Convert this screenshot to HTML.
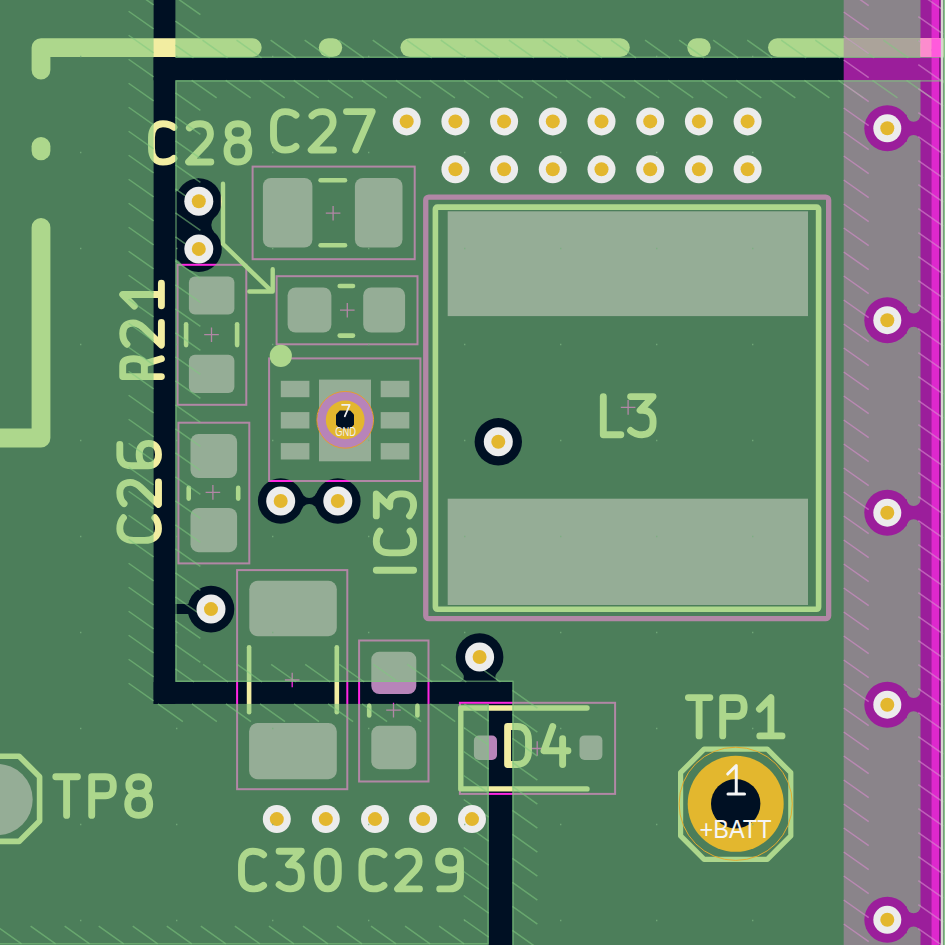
<!DOCTYPE html><html><head><meta charset="utf-8"><style>html,body{margin:0;padding:0;background:#001023;overflow:hidden}svg{display:block}</style></head><body><svg width="945" height="945" viewBox="0 0 945 945"><defs><clipPath id="cp"><rect x="0" y="0" width="945" height="945"/></clipPath></defs><rect width="945" height="945" fill="#001023"/><rect x="843.7" y="-10" width="77.3" height="965" rx="0" fill="rgb(155,30,155)"/><rect x="920.5" y="-10" width="10.7" height="965" rx="0" fill="rgb(155,30,155)"/><rect x="931.2" y="-10" width="7.8" height="965" rx="0" fill="rgb(222,40,205)"/><rect x="939" y="-10" width="2" height="965" rx="0" fill="rgb(130,20,130)"/><rect x="262.9" y="177.9" width="49.5" height="69.6" rx="8" fill="rgb(183,132,185)"/><rect x="354.9" y="177.9" width="47.6" height="69.6" rx="8" fill="rgb(183,132,185)"/><rect x="287.6" y="287.5" width="43.8" height="45.1" rx="8" fill="rgb(183,132,185)"/><rect x="363.2" y="287.5" width="41.9" height="45.1" rx="8" fill="rgb(183,132,185)"/><rect x="188.9" y="276.5" width="45.5" height="38.1" rx="6" fill="rgb(183,132,185)"/><rect x="188.9" y="354.8" width="45.5" height="38.1" rx="6" fill="rgb(183,132,185)"/><rect x="190.5" y="434" width="46.6" height="44" rx="8" fill="rgb(183,132,185)"/><rect x="190.5" y="508" width="46.6" height="44.2" rx="8" fill="rgb(183,132,185)"/><rect x="319" y="379.6" width="52" height="81.7" rx="0" fill="rgb(183,132,185)"/><rect x="447.7" y="211.3" width="360.3" height="104.8" rx="0" fill="rgb(183,132,185)"/><rect x="447.7" y="498.7" width="360.3" height="106.3" rx="0" fill="rgb(183,132,185)"/><rect x="249.3" y="580.7" width="87.5" height="55.5" rx="8.5" fill="rgb(183,132,185)"/><rect x="249.1" y="723" width="87.7" height="56.2" rx="8.5" fill="rgb(183,132,185)"/><rect x="371.3" y="651.7" width="45" height="42.3" rx="8" fill="rgb(183,132,185)"/><rect x="371.3" y="725.8" width="45" height="43.4" rx="8" fill="rgb(183,132,185)"/><rect x="473.9" y="735.6" width="23.1" height="24.4" rx="5" fill="rgb(183,132,185)"/><rect x="579.5" y="735.4" width="22.9" height="24.6" rx="5" fill="rgb(183,132,185)"/><rect x="280.8" y="380.8" width="28.6" height="16.4" rx="0" fill="rgb(183,132,185)"/><rect x="380.7" y="380.8" width="28.6" height="16.4" rx="0" fill="rgb(183,132,185)"/><rect x="280.8" y="412.1" width="28.6" height="16.4" rx="0" fill="rgb(183,132,185)"/><rect x="380.7" y="412.1" width="28.6" height="16.4" rx="0" fill="rgb(183,132,185)"/><rect x="280.8" y="443.1" width="28.6" height="16.4" rx="0" fill="rgb(183,132,185)"/><rect x="380.7" y="443.1" width="28.6" height="16.4" rx="0" fill="rgb(183,132,185)"/><circle cx="-3" cy="799.5" r="35.7" fill="rgb(183,132,185)"/><rect x="252.6" y="166.6" width="162.1" height="92.6" rx="0" fill="none" stroke="rgb(255,38,226)" stroke-width="2"/><rect x="276.6" y="276.2" width="140.9" height="68.1" rx="0" fill="none" stroke="rgb(255,38,226)" stroke-width="2"/><rect x="177.6" y="264.8" width="68.7" height="140" rx="0" fill="none" stroke="rgb(255,38,226)" stroke-width="2"/><rect x="178.4" y="422.7" width="70.9" height="140.7" rx="0" fill="none" stroke="rgb(255,38,226)" stroke-width="2"/><rect x="269.1" y="358.4" width="151.3" height="122.6" rx="0" fill="none" stroke="rgb(255,38,226)" stroke-width="2"/><rect x="237.1" y="570.1" width="110.2" height="219.1" rx="0" fill="none" stroke="rgb(255,38,226)" stroke-width="2"/><rect x="359.1" y="640.5" width="69.4" height="141" rx="0" fill="none" stroke="rgb(255,38,226)" stroke-width="2"/><rect x="459.9" y="702.8" width="155.2" height="91.1" rx="0" fill="none" stroke="rgb(255,38,226)" stroke-width="2"/><rect x="425.75" y="197.05" width="402.9" height="421.6" rx="3" fill="none" stroke="rgb(255,38,226)" stroke-width="5.3"/><path d="M325.8,213.2 L340.4,213.2 M333.1,205.9 L333.1,220.5" stroke="rgb(255,38,226)" stroke-width="1.3"/><path d="M340,310.2 L354.6,310.2 M347.3,302.9 L347.3,317.5" stroke="rgb(255,38,226)" stroke-width="1.3"/><path d="M204.2,334.7 L218.8,334.7 M211.5,327.4 L211.5,342" stroke="rgb(255,38,226)" stroke-width="1.3"/><path d="M205.6,492.4 L220.2,492.4 M212.9,485.1 L212.9,499.7" stroke="rgb(255,38,226)" stroke-width="1.3"/><path d="M284.9,680 L299.5,680 M292.2,672.7 L292.2,687.3" stroke="rgb(255,38,226)" stroke-width="1.3"/><path d="M386.2,710.1 L400.8,710.1 M393.5,702.8 L393.5,717.4" stroke="rgb(255,38,226)" stroke-width="1.3"/><path d="M529.9,748.5 L544.5,748.5 M537.2,741.2 L537.2,755.8" stroke="rgb(255,38,226)" stroke-width="1.3"/><path d="M620.8,407.4 L635.4,407.4 M628.1,400.1 L628.1,414.7" stroke="rgb(255,38,226)" stroke-width="1.3"/><path d="M41,70 L41,47.6 L252.3,47.6" fill="none" stroke="rgb(242,237,161)" stroke-width="18.8" stroke-linecap="round" stroke-linejoin="round"/><path d="M328.2,47.6 L332.8,47.6" fill="none" stroke="rgb(242,237,161)" stroke-width="18.8" stroke-linecap="round" stroke-linejoin="round"/><path d="M409.8,47.6 L620.4,47.6" fill="none" stroke="rgb(242,237,161)" stroke-width="18.8" stroke-linecap="round" stroke-linejoin="round"/><path d="M696.7,47.6 L701.3,47.6" fill="none" stroke="rgb(242,237,161)" stroke-width="18.8" stroke-linecap="round" stroke-linejoin="round"/><path d="M777.4,47.6 L1000,47.6" fill="none" stroke="rgb(242,237,161)" stroke-width="18.8" stroke-linecap="round" stroke-linejoin="round"/><path d="M41,146.3 L41,150.9" fill="none" stroke="rgb(242,237,161)" stroke-width="18.8" stroke-linecap="round" stroke-linejoin="round"/><path d="M41,227.5 L41,438 L-20,438" fill="none" stroke="rgb(242,237,161)" stroke-width="18.8" stroke-linecap="round" stroke-linejoin="round"/><path d="M320.6,180.2 L345,180.2" fill="none" stroke="rgb(242,237,161)" stroke-width="4.6" stroke-linecap="round" stroke-linejoin="round"/><path d="M320.6,245.2 L345,245.2" fill="none" stroke="rgb(242,237,161)" stroke-width="4.6" stroke-linecap="round" stroke-linejoin="round"/><path d="M339.7,286 L353,286" fill="none" stroke="rgb(242,237,161)" stroke-width="4.6" stroke-linecap="round" stroke-linejoin="round"/><path d="M339.7,335.6 L353,335.6" fill="none" stroke="rgb(242,237,161)" stroke-width="4.6" stroke-linecap="round" stroke-linejoin="round"/><path d="M186.1,324.3 L186.1,345.1" fill="none" stroke="rgb(242,237,161)" stroke-width="4.6" stroke-linecap="round" stroke-linejoin="round"/><path d="M237.1,324.3 L237.1,345.1" fill="none" stroke="rgb(242,237,161)" stroke-width="4.6" stroke-linecap="round" stroke-linejoin="round"/><path d="M188.7,487.9 L188.7,498.6" fill="none" stroke="rgb(242,237,161)" stroke-width="4.6" stroke-linecap="round" stroke-linejoin="round"/><path d="M238.2,487.9 L238.2,498.6" fill="none" stroke="rgb(242,237,161)" stroke-width="4.6" stroke-linecap="round" stroke-linejoin="round"/><path d="M249.1,647.3 L249.1,712.2" fill="none" stroke="rgb(242,237,161)" stroke-width="4.6" stroke-linecap="round" stroke-linejoin="round"/><path d="M336.8,647.3 L336.8,712.2" fill="none" stroke="rgb(242,237,161)" stroke-width="4.6" stroke-linecap="round" stroke-linejoin="round"/><path d="M369.2,705.9 L369.2,715.5" fill="none" stroke="rgb(242,237,161)" stroke-width="4.6" stroke-linecap="round" stroke-linejoin="round"/><path d="M417.4,705.9 L417.4,715.5" fill="none" stroke="rgb(242,237,161)" stroke-width="4.6" stroke-linecap="round" stroke-linejoin="round"/><path d="M223,183.8 L223,244 L270.5,290.2" fill="none" stroke="rgb(242,237,161)" stroke-width="4.4" stroke-linecap="round" stroke-linejoin="round"/><path d="M272.7,269.3 L272.7,291.5 L249.3,291.5" fill="none" stroke="rgb(242,237,161)" stroke-width="4.4" stroke-linecap="round" stroke-linejoin="round"/><circle cx="280.8" cy="355.9" r="11.1" fill="rgb(242,237,161)"/><rect x="435.4" y="207.1" width="383.2" height="402.2" rx="2" fill="none" stroke="rgb(242,237,161)" stroke-width="5.6"/><path d="M587,708 L460.8,708 L460.8,788.9 L587,788.9" fill="none" stroke="rgb(242,237,161)" stroke-width="5.4" stroke-linecap="round" stroke-linejoin="round"/><path d="M704.1,749.2 L767.3,749.2 L790.8,772.7 L790.8,835.9 L767.3,859.4 L704.1,859.4 L680.6,835.9 L680.6,772.7 Z" fill="none" stroke="rgb(242,237,161)" stroke-width="5.2" stroke-linejoin="round"/><path d="M-25.1,756.2 L19.1,756.2 L39.6,776.7 L39.6,820.9 L19.1,841.4 L-25.1,841.4 L-45.6,820.9 L-45.6,776.7 Z" fill="none" stroke="rgb(242,237,161)" stroke-width="5.6" stroke-linejoin="round"/><path d="M173.91,127.3 C170.65,124.27 167.59,123.7 162.99,123.7 C155.33,123.7 151.5,129.44 151.5,137.49 L151.5,148.21 C151.5,156.25 155.33,162 162.99,162 C167.59,162 170.65,161.43 173.91,158.4 M189.37,127.91 C192.43,124.47 195.49,123.7 200.09,123.7 C206.98,123.7 210.43,127.53 210.43,134.04 C210.43,137.87 208.9,140.55 205.83,144 L188.6,162 L210.81,162 M237.92,140.17 C230.83,140.17 228.15,136.72 228.15,131.93 C228.15,126.76 231.6,123.7 237.92,123.7 C244.24,123.7 247.68,126.76 247.68,131.93 C247.68,136.72 245,140.17 237.92,140.17 C230.83,140.17 227,144 227,150.89 C227,158.17 231.6,162 237.92,162 C244.24,162 248.83,158.17 248.83,150.89 C248.83,144 245,140.17 237.92,140.17 Z" fill="none" stroke="rgb(242,237,161)" stroke-width="6.9" stroke-linecap="round" stroke-linejoin="round"/><path d="M295.96,115.21 C292.7,112.18 289.63,111.6 285.02,111.6 C277.34,111.6 273.5,117.36 273.5,125.42 L273.5,136.18 C273.5,144.24 277.34,150 285.02,150 C289.63,150 292.7,149.42 295.96,146.39 M311.97,115.82 C315.04,112.37 318.11,111.6 322.72,111.6 C329.63,111.6 333.09,115.44 333.09,121.97 C333.09,125.81 331.55,128.5 328.48,131.95 L311.2,150 L333.47,150 M346.5,111.6 L372.23,111.6 L355.72,150" fill="none" stroke="rgb(242,237,161)" stroke-width="6.9" stroke-linecap="round" stroke-linejoin="round"/><path d="M161.4,376.6 L122.7,376.6 L122.7,365.76 C122.7,361.12 126.57,358.8 133.54,358.8 C140.5,358.8 144.37,361.12 144.37,365.76 L144.37,376.6 M144.37,363.83 L161.4,358.8 M126.96,344.23 C123.47,341.13 122.7,338.03 122.7,333.39 C122.7,326.42 126.57,322.94 133.15,322.94 C137.02,322.94 139.73,324.49 143.21,327.58 L161.4,345 L161.4,322.55 M134.31,306.09 L122.7,294.48 L161.4,294.48 M161.4,305.7 L161.4,283.25" fill="none" stroke="rgb(242,237,161)" stroke-width="6.9" stroke-linecap="round" stroke-linejoin="round"/><path d="M123.44,517.76 C120.38,521.05 119.8,524.15 119.8,528.79 C119.8,536.53 125.61,540.4 133.73,540.4 L144.57,540.4 C152.69,540.4 158.5,536.53 158.5,528.79 C158.5,524.15 157.92,521.05 154.86,517.76 M124.06,503.63 C120.57,500.53 119.8,497.43 119.8,492.79 C119.8,485.82 123.67,482.34 130.25,482.34 C134.12,482.34 136.83,483.89 140.31,486.98 L158.5,504.4 L158.5,481.95 M148.05,465.8 C154.63,465.8 158.5,461.54 158.5,454.58 C158.5,447.22 154.63,443.35 148.82,443.35 C142.25,443.35 139.15,447.22 139.15,454.58 C139.15,461.54 142.25,465.8 148.05,465.8 L131.41,465.8 C123.67,465.8 119.8,461.93 119.8,454.96 L119.8,444.51" fill="none" stroke="rgb(242,237,161)" stroke-width="6.9" stroke-linecap="round" stroke-linejoin="round"/><path d="M376.3,570.3 L413.6,570.3 M379.81,531.08 C376.86,534.25 376.3,537.23 376.3,541.71 C376.3,549.17 381.9,552.9 389.73,552.9 L400.17,552.9 C408,552.9 413.6,549.17 413.6,541.71 C413.6,537.23 413.04,534.25 410.09,531.08 M376.3,515.9 L376.3,493.89 L389.73,506.57 L389.73,503.96 C389.73,497.25 394.2,493.89 400.17,493.89 L402.41,493.89 C409.87,493.89 413.6,498.37 413.6,504.71 C413.6,509.93 411.74,513.29 409.5,515.9" fill="none" stroke="rgb(242,237,161)" stroke-width="6.9" stroke-linecap="round" stroke-linejoin="round"/><path d="M603.3,396.6 L603.3,434.7 L620.83,434.7 M630.6,396.6 L653.08,396.6 L640.12,410.32 L642.79,410.32 C649.65,410.32 653.08,414.89 653.08,420.98 L653.08,423.27 C653.08,430.89 648.51,434.7 642.03,434.7 C636.7,434.7 633.27,432.8 630.6,430.51" fill="none" stroke="rgb(242,237,161)" stroke-width="6.9" stroke-linecap="round" stroke-linejoin="round"/><path d="M688.4,697.6 L709.85,697.6 M699.12,697.6 L699.12,735.9 M722.7,735.9 L722.7,697.6 L736.11,697.6 C741.85,697.6 744.15,700.66 744.15,706.98 C744.15,713.3 741.85,716.37 736.11,716.37 L722.7,716.37 M759.42,709.09 L770.91,697.6 L770.91,735.9 M759.8,735.9 L782.01,735.9" fill="none" stroke="rgb(242,237,161)" stroke-width="6.9" stroke-linecap="round" stroke-linejoin="round"/><path d="M55.8,776.8 L77.42,776.8 M66.61,776.8 L66.61,815.4 M91.7,815.4 L91.7,776.8 L105.21,776.8 C111,776.8 113.32,779.89 113.32,786.26 C113.32,792.63 111,795.71 105.21,795.71 L91.7,795.71 M138.7,793.4 C131.56,793.4 128.86,789.92 128.86,785.1 C128.86,779.89 132.33,776.8 138.7,776.8 C145.07,776.8 148.54,779.89 148.54,785.1 C148.54,789.92 145.84,793.4 138.7,793.4 C131.56,793.4 127.7,797.26 127.7,804.21 C127.7,811.54 132.33,815.4 138.7,815.4 C145.07,815.4 149.7,811.54 149.7,804.21 C149.7,797.26 145.84,793.4 138.7,793.4 Z" fill="none" stroke="rgb(242,237,161)" stroke-width="6.9" stroke-linecap="round" stroke-linejoin="round"/><path d="M263.55,854.74 C260.35,851.77 257.33,851.2 252.81,851.2 C245.27,851.2 241.5,856.86 241.5,864.77 L241.5,875.33 C241.5,883.25 245.27,888.9 252.81,888.9 C257.33,888.9 260.35,888.33 263.55,885.36 M279.1,851.2 L301.34,851.2 L288.53,864.77 L291.16,864.77 C297.95,864.77 301.34,869.3 301.34,875.33 L301.34,877.59 C301.34,885.13 296.82,888.9 290.41,888.9 C285.13,888.9 281.74,887.02 279.1,884.75 M327.76,851.2 C334.54,851.2 338.31,857.23 338.31,866.28 L338.31,873.82 C338.31,882.87 334.54,888.9 327.76,888.9 C320.97,888.9 317.2,882.87 317.2,873.82 L317.2,866.28 C317.2,857.23 320.97,851.2 327.76,851.2 Z" fill="none" stroke="rgb(242,237,161)" stroke-width="6.9" stroke-linecap="round" stroke-linejoin="round"/><path d="M383.95,854.74 C380.75,851.77 377.73,851.2 373.21,851.2 C365.67,851.2 361.9,856.86 361.9,864.77 L361.9,875.33 C361.9,883.25 365.67,888.9 373.21,888.9 C377.73,888.9 380.75,888.33 383.95,885.36 M398.35,855.35 C401.37,851.95 404.39,851.2 408.91,851.2 C415.7,851.2 419.09,854.97 419.09,861.38 C419.09,865.15 417.58,867.79 414.57,871.18 L397.6,888.9 L419.47,888.9 M460.47,861.38 C460.47,854.97 456.32,851.2 449.53,851.2 C442.37,851.2 438.6,854.97 438.6,860.62 C438.6,867.03 442.37,870.05 449.53,870.05 C456.32,870.05 460.47,867.03 460.47,861.38 L460.47,877.59 C460.47,885.13 456.7,888.9 449.91,888.9 L439.73,888.9" fill="none" stroke="rgb(242,237,161)" stroke-width="6.9" stroke-linecap="round" stroke-linejoin="round"/><path d="M507.6,726.5 L507.6,764.5 L517.1,764.5 C524.7,764.5 528.5,758.8 528.5,751.2 L528.5,739.8 C528.5,732.2 524.7,726.5 517.1,726.5 Z M552.74,726.5 L544,750.82 L567.94,750.82 M562.62,738.66 L562.62,764.5" fill="none" stroke="rgb(242,237,161)" stroke-width="6.9" stroke-linecap="round" stroke-linejoin="round"/><rect x="843.7" y="38.2" width="76.8" height="18.8" rx="0" fill="rgb(237,108,194)"/><mask id="zm" maskUnits="userSpaceOnUse" x="0" y="0" width="945" height="945"><rect x="-10" y="-10" width="965" height="965" fill="#fff"/><rect x="153.6" y="-10" width="21.8" height="713.9" rx="0" fill="#000"/><rect x="153.6" y="57.8" width="806.4" height="22.5" rx="0" fill="#000"/><rect x="153.6" y="682" width="358.8" height="21.9" rx="0" fill="#000"/><rect x="488.7" y="682" width="23.7" height="278" rx="0" fill="#000"/><rect x="920.5" y="-10" width="39.5" height="970" rx="0" fill="#000"/><circle cx="198.8" cy="201.2" r="23" fill="#000"/><circle cx="198.8" cy="248.9" r="23" fill="#000"/><path d="M170,195 L198.8,178.2 L214.8,217.6 L214.8,232.5 L198.8,271.9 L170,256 Z" fill="#000"/><circle cx="221.8" cy="225.05" r="10.5" fill="#fff"/><circle cx="498.3" cy="441.8" r="23.7" fill="#000"/><circle cx="280.7" cy="501" r="22.8" fill="#000"/><circle cx="337.8" cy="501" r="22.8" fill="#000"/><path d="M280.7,501 L302.06,493 L316.44,493 L337.8,501 L316.44,509 L302.06,509 Z" fill="#000"/><circle cx="309.25" cy="490.32" r="7.68" fill="#fff"/><circle cx="309.25" cy="511.68" r="7.68" fill="#fff"/><circle cx="211" cy="609.1" r="23.3" fill="#000"/><rect x="170" y="604" width="30" height="10" rx="0" fill="#000"/><circle cx="479.6" cy="657" r="23.8" fill="#000"/><path d="M479.6,657 L496.7,673.5 L500.3,683 L458.9,683 L462.5,673.5 Z" fill="#000"/><circle cx="500.3" cy="677" r="5" fill="#fff"/><circle cx="458.9" cy="677" r="5" fill="#fff"/><circle cx="183.5" cy="596" r="7" fill="#fff"/><circle cx="183.5" cy="622.2" r="7" fill="#fff"/><rect x="895" y="114.7" width="30" height="27.2" rx="0" fill="#000"/><circle cx="913.6" cy="114.7" r="7" fill="#fff"/><circle cx="913.6" cy="141.9" r="7" fill="#fff"/><circle cx="887.3" cy="128.3" r="23" fill="#000"/><rect x="895" y="306.6" width="30" height="27.2" rx="0" fill="#000"/><circle cx="913.6" cy="306.6" r="7" fill="#fff"/><circle cx="913.6" cy="333.8" r="7" fill="#fff"/><circle cx="887.3" cy="320.2" r="23" fill="#000"/><rect x="895" y="499.1" width="30" height="27.2" rx="0" fill="#000"/><circle cx="913.6" cy="499.1" r="7" fill="#fff"/><circle cx="913.6" cy="526.3" r="7" fill="#fff"/><circle cx="887.3" cy="512.7" r="23" fill="#000"/><rect x="895" y="691.1" width="30" height="27.2" rx="0" fill="#000"/><circle cx="913.6" cy="691.1" r="7" fill="#fff"/><circle cx="913.6" cy="718.3" r="7" fill="#fff"/><circle cx="887.3" cy="704.7" r="23" fill="#000"/><rect x="895" y="906.2" width="30" height="27.2" rx="0" fill="#000"/><circle cx="913.6" cy="906.2" r="7" fill="#fff"/><circle cx="913.6" cy="933.4" r="7" fill="#fff"/><circle cx="887.3" cy="919.8" r="23" fill="#000"/><circle cx="345.2" cy="419.8" r="28.6" fill="#000"/></mask><rect x="0" y="0" width="945" height="945" fill="rgb(127,200,127)" fill-opacity="0.6" mask="url(#zm)"/><g clip-path="url(#cp)"><path d="M129.65,-300 L153.6,-283.11 M95.6,-300 L120.6,-282.38 M128.6,-276.74 L153.6,-259.11 M61.56,-300 L86.56,-282.38 M128.6,-252.74 L153.6,-235.11 M27.52,-300 L52.52,-282.38 M128.6,-228.74 L153.6,-211.11 M-6.52,-300 L18.48,-282.38 M128.6,-204.74 L153.6,-187.11 M-40.57,-300 L-15.57,-282.38 M128.6,-180.74 L153.6,-163.11 M-74.61,-300 L-49.61,-282.38 M128.6,-156.74 L153.6,-139.11 M-108.65,-300 L-83.65,-282.38 M128.6,-132.74 L153.6,-115.11 M-142.7,-300 L-117.7,-282.38 M128.6,-108.74 L153.6,-91.11 M-176.74,-300 L-151.74,-282.38 M128.6,-84.74 L153.6,-67.11 M-210.78,-300 L-185.78,-282.38 M128.6,-60.74 L153.6,-43.11 M-244.82,-300 L-219.82,-282.38 M128.6,-36.74 L153.6,-19.11 M-278.87,-300 L-253.87,-282.38 M128.6,-12.74 L153.6,4.89 M-300,-290.9 L-275,-273.27 M128.6,11.26 L153.6,28.89 M-300,-266.9 L-275,-249.27 M128.6,35.26 L153.6,52.89 M-300,-242.9 L-275,-225.27 M128.6,59.26 L153.6,76.89 M-300,-218.9 L-275,-201.27 M128.6,83.26 L153.6,100.89 M-300,-194.9 L-275,-177.27 M128.6,107.26 L153.6,124.89 M-300,-170.9 L-275,-153.27 M128.6,131.26 L153.6,148.89 M-300,-146.9 L-275,-129.27 M128.6,155.26 L153.6,172.89 M-300,-122.9 L-275,-105.27 M128.6,179.26 L153.6,196.89 M-300,-98.9 L-275,-81.27 M128.6,203.26 L153.6,220.89 M-300,-74.9 L-275,-57.27 M128.6,227.26 L153.6,244.89 M-300,-50.9 L-275,-33.27 M128.6,251.26 L153.6,268.89 M-300,-26.9 L-275,-9.27 M128.6,275.26 L153.6,292.89 M-300,-2.9 L-275,14.73 M128.6,299.26 L153.6,316.89 M-300,21.1 L-275,38.73 M128.6,323.26 L153.6,340.89 M-300,45.1 L-275,62.73 M128.6,347.26 L153.6,364.89 M-300,69.1 L-275,86.73 M128.6,371.26 L153.6,388.89 M-300,93.1 L-275,110.73 M128.6,395.26 L153.6,412.89 M-300,117.1 L-275,134.73 M128.6,419.26 L153.6,436.89 M-300,141.1 L-275,158.73 M128.6,443.26 L153.6,460.89 M-300,165.1 L-275,182.73 M128.6,467.26 L153.6,484.89 M464.26,703.9 L488.7,721.13 M-300,189.1 L-275,206.73 M128.6,491.26 L153.6,508.89 M430.21,703.9 L455.21,721.52 M463.7,727.51 L488.7,745.13 M-300,213.1 L-275,230.73 M128.6,515.26 L153.6,532.89 M396.17,703.9 L421.17,721.52 M463.7,751.51 L488.7,769.13 M-300,237.1 L-275,254.73 M128.6,539.26 L153.6,556.89 M362.13,703.9 L387.13,721.52 M463.7,775.51 L488.7,793.13 M-300,261.1 L-275,278.73 M128.6,563.26 L153.6,580.89 M328.09,703.9 L353.09,721.52 M463.7,799.51 L488.7,817.13 M-300,285.1 L-275,302.73 M128.6,587.26 L153.6,604.89 M294.04,703.9 L319.04,721.52 M463.7,823.51 L488.7,841.13 M-300,309.1 L-275,326.73 M128.6,611.26 L153.6,628.89 M260,703.9 L285,721.52 M463.7,847.51 L488.7,865.13 M-300,333.1 L-275,350.73 M128.6,635.26 L153.6,652.89 M225.96,703.9 L250.96,721.52 M463.7,871.51 L488.7,889.13 M-300,357.1 L-275,374.73 M128.6,659.26 L153.6,676.89 M191.91,703.9 L216.91,721.52 M463.7,895.51 L488.7,913.13 M-300,381.1 L-275,398.73 M128.6,683.26 L153.6,700.89 M157.87,703.9 L182.87,721.52 M463.7,919.51 L488.7,937.13 M-300,405.1 L-275,422.73 M439.11,926.17 L464.11,943.8 M-300,429.1 L-275,446.73 M405.07,926.17 L430.07,943.8 M-300,453.1 L-275,470.73 M371.03,926.17 L396.03,943.8 M-300,477.1 L-275,494.73 M336.99,926.17 L361.99,943.8 M-300,501.1 L-275,518.73 M302.94,926.17 L327.94,943.8 M-300,525.1 L-275,542.73 M268.9,926.17 L293.9,943.8 M-300,549.1 L-275,566.73 M234.86,926.17 L259.86,943.8 M-300,573.1 L-275,590.73 M200.82,926.17 L225.82,943.8 M-300,597.1 L-275,614.73 M166.77,926.17 L191.77,943.8 M-300,621.1 L-275,638.73 M132.73,926.17 L157.73,943.8 M-300,645.1 L-275,662.73 M98.69,926.17 L123.69,943.8 M-300,669.1 L-275,686.73 M64.65,926.17 L89.65,943.8 M-300,693.1 L-275,710.73 M30.6,926.17 L55.6,943.8 M-300,717.1 L-275,734.73 M-3.44,926.17 L21.56,943.8 M-300,741.1 L-275,758.73 M-37.48,926.17 L-12.48,943.8 M-300,765.1 L-275,782.73 M-71.52,926.17 L-46.52,943.8 M-300,789.1 L-275,806.73 M-105.57,926.17 L-80.57,943.8 M-300,813.1 L-275,830.72 M-139.61,926.17 L-114.61,943.8 M-300,837.1 L-275,854.72 M-173.65,926.17 L-148.65,943.8 M-300,861.1 L-275,878.72 M-207.7,926.17 L-182.7,943.8 M-300,885.1 L-275,902.72 M-241.74,926.17 L-216.74,943.8 M-300,909.1 L-250.78,943.8 M-300,933.1 L-284.82,943.8" stroke="rgb(127,200,127)" stroke-width="1.5" stroke-opacity="0.55"/><path d="M1388.09,-300 L1400,-291.6 M1354.04,-300 L1400,-267.6 M1320,-300 L1345,-282.38 M1375,-261.22 L1400,-243.6 M1285.96,-300 L1310.96,-282.38 M1375,-237.22 L1400,-219.6 M1251.91,-300 L1276.91,-282.38 M1375,-213.22 L1400,-195.6 M1217.87,-300 L1242.87,-282.38 M1375,-189.22 L1400,-171.6 M1183.83,-300 L1208.83,-282.38 M1375,-165.22 L1400,-147.6 M1149.79,-300 L1174.79,-282.38 M1375,-141.22 L1400,-123.6 M1115.74,-300 L1140.74,-282.38 M1375,-117.22 L1400,-99.6 M1081.7,-300 L1106.7,-282.38 M1375,-93.22 L1400,-75.6 M1047.66,-300 L1072.66,-282.38 M1375,-69.22 L1400,-51.6 M1013.62,-300 L1038.62,-282.38 M1375,-45.23 L1400,-27.6 M979.57,-300 L1004.57,-282.38 M1375,-21.23 L1400,-3.6 M945.53,-300 L970.53,-282.38 M1375,2.77 L1400,20.4 M911.49,-300 L936.49,-282.38 M1375,26.77 L1400,44.4 M877.45,-300 L902.45,-282.38 M1359.96,40.17 L1384.96,57.8 M843.4,-300 L868.4,-282.38 M1325.92,40.17 L1350.92,57.8 M809.36,-300 L834.36,-282.38 M1291.88,40.17 L1316.88,57.8 M775.32,-300 L800.32,-282.38 M1257.84,40.17 L1282.84,57.8 M741.28,-300 L766.28,-282.38 M1223.79,40.17 L1248.79,57.8 M707.23,-300 L732.23,-282.38 M1189.75,40.17 L1214.75,57.8 M673.19,-300 L698.19,-282.38 M1155.71,40.17 L1180.71,57.8 M639.15,-300 L664.15,-282.38 M1121.67,40.17 L1146.67,57.8 M605.11,-300 L630.11,-282.38 M1087.62,40.17 L1112.62,57.8 M571.06,-300 L596.06,-282.38 M1053.58,40.17 L1078.58,57.8 M537.02,-300 L562.02,-282.38 M1019.54,40.17 L1044.54,57.8 M502.98,-300 L527.98,-282.38 M985.5,40.17 L1010.5,57.8 M468.94,-300 L493.94,-282.38 M951.45,40.17 L976.45,57.8 M434.89,-300 L459.89,-282.38 M917.41,40.17 L942.41,57.8 M400.85,-300 L425.85,-282.38 M883.37,40.17 L908.37,57.8 M366.81,-300 L391.81,-282.38 M849.33,40.17 L874.33,57.8 M332.77,-300 L357.77,-282.38 M815.28,40.17 L840.28,57.8 M298.72,-300 L323.72,-282.38 M781.24,40.17 L806.24,57.8 M264.68,-300 L289.68,-282.38 M747.2,40.17 L772.2,57.8 M230.64,-300 L255.64,-282.38 M713.16,40.17 L738.16,57.8 M196.6,-300 L221.6,-282.38 M679.11,40.17 L704.11,57.8 M175.4,-290.94 L200.4,-273.32 M645.07,40.17 L670.07,57.8 M175.4,-266.94 L200.4,-249.32 M611.03,40.17 L636.03,57.8 M175.4,-242.94 L200.4,-225.32 M576.99,40.17 L601.99,57.8 M175.4,-218.94 L200.4,-201.32 M542.94,40.17 L567.94,57.8 M175.4,-194.94 L200.4,-177.32 M508.9,40.17 L533.9,57.8 M175.4,-170.94 L200.4,-153.32 M474.86,40.17 L499.86,57.8 M175.4,-146.94 L200.4,-129.32 M440.82,40.17 L465.82,57.8 M175.4,-122.94 L200.4,-105.32 M406.77,40.17 L431.77,57.8 M175.4,-98.94 L200.4,-81.32 M372.73,40.17 L397.73,57.8 M175.4,-74.94 L200.4,-57.32 M338.69,40.17 L363.69,57.8 M175.4,-50.94 L200.4,-33.32 M304.65,40.17 L329.65,57.8 M175.4,-26.94 L200.4,-9.32 M270.6,40.17 L295.6,57.8 M175.4,-2.94 L200.4,14.68 M236.56,40.17 L261.56,57.8 M175.4,21.06 L200.4,38.68 M202.52,40.17 L227.52,57.8 M175.4,45.06 L193.48,57.8" stroke="rgb(127,200,127)" stroke-width="1.5" stroke-opacity="0.55"/><path d="M1383.12,80.3 L1400,92.2 M1349.08,80.3 L1374.08,97.92 M1375,98.58 L1400,116.2 M1315.04,80.3 L1340.04,97.92 M1375,122.58 L1400,140.2 M1280.99,80.3 L1305.99,97.92 M1375,146.58 L1400,164.2 M1246.95,80.3 L1271.95,97.92 M1375,170.58 L1400,188.2 M1212.91,80.3 L1237.91,97.92 M1375,194.58 L1400,212.2 M1178.87,80.3 L1203.87,97.92 M1375,218.58 L1400,236.2 M1144.82,80.3 L1169.82,97.92 M1375,242.58 L1400,260.2 M1110.78,80.3 L1135.78,97.92 M1375,266.58 L1400,284.2 M1076.74,80.3 L1101.74,97.92 M1375,290.58 L1400,308.2 M1042.7,80.3 L1067.7,97.92 M1375,314.58 L1400,332.2 M1008.65,80.3 L1033.65,97.92 M1375,338.58 L1400,356.2 M974.61,80.3 L999.61,97.92 M1375,362.58 L1400,380.2 M940.57,80.3 L965.57,97.92 M1375,386.58 L1400,404.2 M906.52,80.3 L931.52,97.92 M1375,410.58 L1400,428.2 M872.48,80.3 L897.48,97.92 M1375,434.58 L1400,452.2 M838.44,80.3 L863.44,97.92 M1375,458.57 L1400,476.2 M804.4,80.3 L829.4,97.92 M1375,482.57 L1400,500.2 M770.35,80.3 L795.35,97.92 M1375,506.57 L1400,524.2 M736.31,80.3 L761.31,97.92 M1375,530.57 L1400,548.2 M702.27,80.3 L727.27,97.92 M1375,554.57 L1400,572.2 M668.23,80.3 L693.23,97.92 M1375,578.57 L1400,596.2 M634.18,80.3 L659.18,97.92 M1375,602.57 L1400,620.2 M600.14,80.3 L625.14,97.92 M1375,626.57 L1400,644.2 M566.1,80.3 L591.1,97.92 M1375,650.57 L1400,668.2 M532.06,80.3 L557.06,97.92 M1375,674.57 L1400,692.2 M498.01,80.3 L523.01,97.92 M1375,698.57 L1400,716.2 M463.97,80.3 L488.97,97.92 M1375,722.57 L1400,740.2 M429.93,80.3 L454.93,97.92 M1375,746.57 L1400,764.2 M395.89,80.3 L420.89,97.92 M1375,770.57 L1400,788.2 M361.84,80.3 L386.84,97.92 M1375,794.57 L1400,812.2 M327.8,80.3 L352.8,97.92 M1375,818.57 L1400,836.2 M293.76,80.3 L318.76,97.92 M1375,842.58 L1400,860.2 M259.72,80.3 L284.72,97.92 M1375,866.58 L1400,884.2 M225.67,80.3 L250.67,97.92 M1375,890.58 L1400,908.2 M191.63,80.3 L216.63,97.92 M1375,914.58 L1400,932.2 M175.4,92.86 L200.4,110.48 M1375,938.58 L1400,956.2 M175.4,116.86 L200.4,134.48 M1375,962.58 L1400,980.2 M175.4,140.86 L200.4,158.48 M1375,986.58 L1400,1004.2 M175.4,164.86 L200.4,182.48 M1375,1010.57 L1400,1028.2 M175.4,188.86 L200.4,206.48 M1375,1034.57 L1400,1052.2 M175.4,212.86 L200.4,230.48 M1375,1058.57 L1400,1076.2 M175.4,236.86 L200.4,254.48 M1375,1082.57 L1400,1100.2 M175.4,260.86 L200.4,278.48 M1375,1106.57 L1400,1124.2 M175.4,284.86 L200.4,302.48 M1375,1130.57 L1400,1148.2 M175.4,308.86 L200.4,326.48 M1375,1154.57 L1400,1172.2 M175.4,332.86 L200.4,350.48 M1375,1178.57 L1400,1196.2 M175.4,356.86 L200.4,374.48 M1375,1202.57 L1400,1220.2 M175.4,380.86 L200.4,398.48 M1375,1226.57 L1400,1244.2 M175.4,404.86 L200.4,422.48 M1375,1250.57 L1400,1268.2 M175.4,428.86 L200.4,446.48 M1375,1274.57 L1400,1292.2 M175.4,452.86 L200.4,470.48 M475.43,664.38 L500.43,682 M512.4,690.44 L537.4,708.07 M1352.02,1282.38 L1377.02,1300 M175.4,476.86 L200.4,494.48 M441.38,664.38 L466.38,682 M512.4,714.44 L537.4,732.07 M1317.98,1282.38 L1342.98,1300 M175.4,500.86 L200.4,518.48 M407.34,664.38 L432.34,682 M512.4,738.44 L537.4,756.07 M1283.94,1282.38 L1308.94,1300 M175.4,524.86 L200.4,542.48 M373.3,664.38 L398.3,682 M512.4,762.44 L537.4,780.07 M1249.89,1282.38 L1274.89,1300 M175.4,548.86 L200.4,566.48 M339.26,664.38 L364.26,682 M512.4,786.44 L537.4,804.07 M1215.85,1282.38 L1240.85,1300 M175.4,572.86 L200.4,590.48 M305.21,664.38 L330.21,682 M512.4,810.44 L537.4,828.07 M1181.81,1282.38 L1206.81,1300 M175.4,596.86 L200.4,614.48 M271.17,664.38 L296.17,682 M512.4,834.44 L537.4,852.07 M1147.77,1282.38 L1172.77,1300 M175.4,620.86 L200.4,638.48 M237.13,664.38 L262.13,682 M512.4,858.44 L537.4,876.07 M1113.72,1282.38 L1138.72,1300 M175.4,644.86 L200.4,662.48 M203.09,664.38 L228.09,682 M512.4,882.44 L537.4,900.07 M1079.68,1282.38 L1104.68,1300 M175.4,668.86 L194.04,682 M512.4,906.44 L537.4,924.07 M1045.64,1282.38 L1070.64,1300 M512.4,930.44 L537.4,948.07 M1011.6,1282.38 L1036.6,1300 M512.4,954.44 L537.4,972.07 M977.55,1282.38 L1002.55,1300 M512.4,978.44 L537.4,996.07 M943.51,1282.38 L968.51,1300 M512.4,1002.44 L537.4,1020.07 M909.47,1282.38 L934.47,1300 M512.4,1026.44 L537.4,1044.07 M875.43,1282.38 L900.43,1300 M512.4,1050.44 L537.4,1068.07 M841.38,1282.38 L866.38,1300 M512.4,1074.44 L537.4,1092.07 M807.34,1282.38 L832.34,1300 M512.4,1098.44 L537.4,1116.07 M773.3,1282.38 L798.3,1300 M512.4,1122.44 L537.4,1140.07 M739.26,1282.38 L764.26,1300 M512.4,1146.44 L537.4,1164.07 M705.21,1282.38 L730.21,1300 M512.4,1170.44 L537.4,1188.07 M671.17,1282.38 L696.17,1300 M512.4,1194.44 L537.4,1212.07 M637.13,1282.38 L662.13,1300 M512.4,1218.44 L537.4,1236.07 M603.09,1282.38 L628.09,1300 M512.4,1242.44 L537.4,1260.07 M569.04,1282.38 L594.04,1300 M512.4,1266.44 L560,1300 M512.4,1290.44 L525.96,1300" stroke="rgb(127,200,127)" stroke-width="1.5" stroke-opacity="0.55"/><path d="M911.77,-300 L943.3,-277.77 M877.73,-300 L902.73,-282.38 M918.3,-271.4 L943.3,-253.77 M843.7,-299.99 L868.7,-282.37 M918.3,-247.4 L943.3,-229.77 M843.7,-275.99 L868.7,-258.37 M918.3,-223.4 L943.3,-205.77 M843.7,-251.99 L868.7,-234.37 M918.3,-199.4 L943.3,-181.77 M843.7,-227.99 L868.7,-210.37 M918.3,-175.4 L943.3,-157.77 M843.7,-203.99 L868.7,-186.37 M918.3,-151.4 L943.3,-133.77 M843.7,-179.99 L868.7,-162.37 M918.3,-127.4 L943.3,-109.77 M843.7,-155.99 L868.7,-138.37 M918.3,-103.4 L943.3,-85.77 M843.7,-131.99 L868.7,-114.37 M918.3,-79.4 L943.3,-61.77 M843.7,-107.99 L868.7,-90.37 M918.3,-55.4 L943.3,-37.77 M843.7,-83.99 L868.7,-66.37 M918.3,-31.4 L943.3,-13.77 M843.7,-59.99 L868.7,-42.37 M918.3,-7.4 L943.3,10.23 M843.7,-35.99 L868.7,-18.37 M918.3,16.6 L943.3,34.23 M843.7,-11.99 L868.7,5.63 M918.3,40.6 L943.3,58.23 M843.7,12.01 L868.7,29.63 M918.3,64.6 L943.3,82.23 M843.7,36.01 L868.7,53.63 M918.3,88.6 L943.3,106.23 M843.7,60.01 L868.7,77.63 M918.3,112.6 L943.3,130.23 M843.7,84.01 L868.7,101.63 M918.3,136.6 L943.3,154.23 M843.7,108.01 L868.7,125.63 M918.3,160.6 L943.3,178.23 M843.7,132.01 L868.7,149.63 M918.3,184.6 L943.3,202.23 M843.7,156.01 L868.7,173.63 M918.3,208.6 L943.3,226.23 M843.7,180.01 L868.7,197.63 M918.3,232.6 L943.3,250.23 M843.7,204.01 L868.7,221.63 M918.3,256.6 L943.3,274.23 M843.7,228.01 L868.7,245.63 M918.3,280.6 L943.3,298.23 M843.7,252.01 L868.7,269.63 M918.3,304.6 L943.3,322.23 M843.7,276.01 L868.7,293.63 M918.3,328.6 L943.3,346.23 M843.7,300.01 L868.7,317.63 M918.3,352.6 L943.3,370.23 M843.7,324.01 L868.7,341.63 M918.3,376.6 L943.3,394.23 M843.7,348.01 L868.7,365.63 M918.3,400.6 L943.3,418.23 M843.7,372.01 L868.7,389.63 M918.3,424.6 L943.3,442.23 M843.7,396.01 L868.7,413.63 M918.3,448.6 L943.3,466.23 M843.7,420.01 L868.7,437.63 M918.3,472.6 L943.3,490.23 M843.7,444.01 L868.7,461.63 M918.3,496.6 L943.3,514.23 M843.7,468.01 L868.7,485.63 M918.3,520.6 L943.3,538.23 M843.7,492.01 L868.7,509.63 M918.3,544.6 L943.3,562.23 M843.7,516.01 L868.7,533.63 M918.3,568.6 L943.3,586.23 M843.7,540.01 L868.7,557.63 M918.3,592.6 L943.3,610.23 M843.7,564.01 L868.7,581.63 M918.3,616.6 L943.3,634.23 M843.7,588.01 L868.7,605.63 M918.3,640.6 L943.3,658.23 M843.7,612.01 L868.7,629.63 M918.3,664.6 L943.3,682.23 M843.7,636.01 L868.7,653.63 M918.3,688.6 L943.3,706.23 M843.7,660.01 L868.7,677.63 M918.3,712.6 L943.3,730.23 M843.7,684.01 L868.7,701.63 M918.3,736.6 L943.3,754.23 M843.7,708.01 L868.7,725.63 M918.3,760.6 L943.3,778.23 M843.7,732.01 L868.7,749.63 M918.3,784.6 L943.3,802.23 M843.7,756.01 L868.7,773.63 M918.3,808.6 L943.3,826.23 M843.7,780.01 L868.7,797.63 M918.3,832.6 L943.3,850.23 M843.7,804.01 L868.7,821.63 M918.3,856.6 L943.3,874.23 M843.7,828.01 L868.7,845.63 M918.3,880.6 L943.3,898.23 M843.7,852.01 L868.7,869.63 M918.3,904.6 L943.3,922.23 M843.7,876.01 L868.7,893.63 M918.3,928.6 L943.3,946.23 M843.7,900.01 L868.7,917.63 M918.3,952.6 L943.3,970.23 M843.7,924.01 L868.7,941.63 M918.3,976.6 L943.3,994.23 M843.7,948.01 L868.7,965.63 M918.3,1000.6 L943.3,1018.23 M843.7,972.01 L868.7,989.63 M918.3,1024.6 L943.3,1042.23 M843.7,996.01 L868.7,1013.63 M918.3,1048.6 L943.3,1066.23 M843.7,1020.01 L868.7,1037.63 M918.3,1072.6 L943.3,1090.23 M843.7,1044.01 L868.7,1061.63 M918.3,1096.6 L943.3,1114.23 M843.7,1068.01 L868.7,1085.63 M918.3,1120.6 L943.3,1138.23 M843.7,1092.01 L868.7,1109.63 M918.3,1144.6 L943.3,1162.23 M843.7,1116.01 L868.7,1133.63 M918.3,1168.6 L943.3,1186.23 M843.7,1140.01 L868.7,1157.63 M918.3,1192.6 L943.3,1210.23 M843.7,1164.01 L868.7,1181.63 M918.3,1216.6 L943.3,1234.23 M843.7,1188.01 L868.7,1205.63 M918.3,1240.6 L943.3,1258.23 M843.7,1212.01 L868.7,1229.63 M918.3,1264.6 L943.3,1282.23 M843.7,1236.01 L868.7,1253.63 M909.47,1282.38 L934.47,1300 M843.7,1260.01 L868.7,1277.63 M875.43,1282.38 L900.43,1300 M843.7,1284.01 L866.38,1300" stroke="rgb(215,140,205)" stroke-width="1.5" stroke-opacity="0.6"/></g><path d="M488.1,703.9 L488.1,943.8 L-10,943.8" fill="none" stroke="rgb(127,200,127)" stroke-width="1.6" stroke-linecap="butt" stroke-linejoin="round" stroke-opacity="0.55"/><path d="M175.4,57.2 L945,57.2" fill="none" stroke="rgb(127,200,127)" stroke-width="1.6" stroke-linecap="butt" stroke-linejoin="round" stroke-opacity="0.55"/><path d="M945,80.9 L176,80.9 L176,681.2 L513,681.2 L513,950" fill="none" stroke="rgb(127,200,127)" stroke-width="1.6" stroke-linecap="butt" stroke-linejoin="round" stroke-opacity="0.55"/><circle cx="406.7" cy="121.4" r="14" fill="rgb(236,236,236)"/><circle cx="406.7" cy="121.4" r="7" fill="rgb(227,183,46)"/><circle cx="455.4" cy="121.4" r="14" fill="rgb(236,236,236)"/><circle cx="455.4" cy="121.4" r="7" fill="rgb(227,183,46)"/><circle cx="504.1" cy="121.4" r="14" fill="rgb(236,236,236)"/><circle cx="504.1" cy="121.4" r="7" fill="rgb(227,183,46)"/><circle cx="552.8" cy="121.4" r="14" fill="rgb(236,236,236)"/><circle cx="552.8" cy="121.4" r="7" fill="rgb(227,183,46)"/><circle cx="601.5" cy="121.4" r="14" fill="rgb(236,236,236)"/><circle cx="601.5" cy="121.4" r="7" fill="rgb(227,183,46)"/><circle cx="650.2" cy="121.4" r="14" fill="rgb(236,236,236)"/><circle cx="650.2" cy="121.4" r="7" fill="rgb(227,183,46)"/><circle cx="698.9" cy="121.4" r="14" fill="rgb(236,236,236)"/><circle cx="698.9" cy="121.4" r="7" fill="rgb(227,183,46)"/><circle cx="747.6" cy="121.4" r="14" fill="rgb(236,236,236)"/><circle cx="747.6" cy="121.4" r="7" fill="rgb(227,183,46)"/><circle cx="455.4" cy="169.3" r="14" fill="rgb(236,236,236)"/><circle cx="455.4" cy="169.3" r="7" fill="rgb(227,183,46)"/><circle cx="504.1" cy="169.3" r="14" fill="rgb(236,236,236)"/><circle cx="504.1" cy="169.3" r="7" fill="rgb(227,183,46)"/><circle cx="552.8" cy="169.3" r="14" fill="rgb(236,236,236)"/><circle cx="552.8" cy="169.3" r="7" fill="rgb(227,183,46)"/><circle cx="601.5" cy="169.3" r="14" fill="rgb(236,236,236)"/><circle cx="601.5" cy="169.3" r="7" fill="rgb(227,183,46)"/><circle cx="650.2" cy="169.3" r="14" fill="rgb(236,236,236)"/><circle cx="650.2" cy="169.3" r="7" fill="rgb(227,183,46)"/><circle cx="698.9" cy="169.3" r="14" fill="rgb(236,236,236)"/><circle cx="698.9" cy="169.3" r="7" fill="rgb(227,183,46)"/><circle cx="747.6" cy="169.3" r="14" fill="rgb(236,236,236)"/><circle cx="747.6" cy="169.3" r="7" fill="rgb(227,183,46)"/><circle cx="276.8" cy="819.1" r="14" fill="rgb(236,236,236)"/><circle cx="276.8" cy="819.1" r="7" fill="rgb(227,183,46)"/><circle cx="325.8" cy="819.1" r="14" fill="rgb(236,236,236)"/><circle cx="325.8" cy="819.1" r="7" fill="rgb(227,183,46)"/><circle cx="375" cy="819.1" r="14" fill="rgb(236,236,236)"/><circle cx="375" cy="819.1" r="7" fill="rgb(227,183,46)"/><circle cx="423.1" cy="819.1" r="14" fill="rgb(236,236,236)"/><circle cx="423.1" cy="819.1" r="7" fill="rgb(227,183,46)"/><circle cx="472" cy="819.1" r="14" fill="rgb(236,236,236)"/><circle cx="472" cy="819.1" r="7" fill="rgb(227,183,46)"/><circle cx="198.8" cy="201.2" r="14.5" fill="rgb(236,236,236)"/><circle cx="198.8" cy="201.2" r="7" fill="rgb(227,183,46)"/><circle cx="198.8" cy="248.9" r="14.5" fill="rgb(236,236,236)"/><circle cx="198.8" cy="248.9" r="7" fill="rgb(227,183,46)"/><circle cx="498.3" cy="441.8" r="14.5" fill="rgb(236,236,236)"/><circle cx="498.3" cy="441.8" r="7" fill="rgb(227,183,46)"/><circle cx="280.7" cy="501" r="14.5" fill="rgb(236,236,236)"/><circle cx="280.7" cy="501" r="7" fill="rgb(227,183,46)"/><circle cx="337.8" cy="501" r="14.5" fill="rgb(236,236,236)"/><circle cx="337.8" cy="501" r="7" fill="rgb(227,183,46)"/><circle cx="211" cy="609.1" r="14.5" fill="rgb(236,236,236)"/><circle cx="211" cy="609.1" r="7" fill="rgb(227,183,46)"/><circle cx="479.6" cy="657" r="14.5" fill="rgb(236,236,236)"/><circle cx="479.6" cy="657" r="7" fill="rgb(227,183,46)"/><circle cx="887.3" cy="128.3" r="14" fill="rgb(236,236,236)"/><circle cx="887.3" cy="128.3" r="7" fill="rgb(227,183,46)"/><circle cx="887.3" cy="320.2" r="14" fill="rgb(236,236,236)"/><circle cx="887.3" cy="320.2" r="7" fill="rgb(227,183,46)"/><circle cx="887.3" cy="512.7" r="14" fill="rgb(236,236,236)"/><circle cx="887.3" cy="512.7" r="7" fill="rgb(227,183,46)"/><circle cx="887.3" cy="704.7" r="14" fill="rgb(236,236,236)"/><circle cx="887.3" cy="704.7" r="7" fill="rgb(227,183,46)"/><circle cx="887.3" cy="919.8" r="14" fill="rgb(236,236,236)"/><circle cx="887.3" cy="919.8" r="7" fill="rgb(227,183,46)"/><circle cx="345.2" cy="419.8" r="28.4" fill="rgb(183,132,185)" stroke="rgb(227,160,46)" stroke-width="1"/><circle cx="345.2" cy="419.8" r="19.4" fill="rgb(227,183,46)"/><path d="M339.8,410.6 L350.2,410.6 L354,414.4 L354,424.8 L350.2,428.6 L339.8,428.6 L336,424.8 L336,414.4 Z" fill="#001023"/><path d="M342,404.8 L349.7,404.8 L344.76,416.3" fill="none" stroke="rgb(240,240,240)" stroke-width="1.7" stroke-linecap="round" stroke-linejoin="round"/><text x="335.3" y="435.8" font-family="Liberation Sans, sans-serif" font-size="13" fill="rgb(240,240,240)" textLength="20.8" lengthAdjust="spacingAndGlyphs">GND</text><circle cx="735.7" cy="803.8" r="56.6" fill="none" stroke="rgb(227,170,46)" stroke-width="1"/><circle cx="735.7" cy="803.8" r="48" fill="rgb(227,183,46)"/><circle cx="735.7" cy="803.8" r="24.7" fill="#001023"/><path d="M727.72,774.05 L736.26,765.5 L736.26,794 M728,794 L744.53,794" fill="none" stroke="rgb(245,245,245)" stroke-width="3" stroke-linecap="round" stroke-linejoin="round"/><text x="699.5" y="837.8" font-family="Liberation Sans, sans-serif" font-size="26" fill="rgb(245,245,245)" textLength="72" lengthAdjust="spacingAndGlyphs">+BATT</text><path d="M80,55.8 h1.4 v1.4 h-1.4 Z M80,151.8 h1.4 v1.4 h-1.4 Z M80,247.8 h1.4 v1.4 h-1.4 Z M80,343.8 h1.4 v1.4 h-1.4 Z M80,439.8 h1.4 v1.4 h-1.4 Z M80,535.8 h1.4 v1.4 h-1.4 Z M80,631.8 h1.4 v1.4 h-1.4 Z M80,727.8 h1.4 v1.4 h-1.4 Z M80,823.8 h1.4 v1.4 h-1.4 Z M80,919.8 h1.4 v1.4 h-1.4 Z M176,55.8 h1.4 v1.4 h-1.4 Z M176,151.8 h1.4 v1.4 h-1.4 Z M176,247.8 h1.4 v1.4 h-1.4 Z M176,343.8 h1.4 v1.4 h-1.4 Z M176,439.8 h1.4 v1.4 h-1.4 Z M176,535.8 h1.4 v1.4 h-1.4 Z M176,631.8 h1.4 v1.4 h-1.4 Z M176,727.8 h1.4 v1.4 h-1.4 Z M176,823.8 h1.4 v1.4 h-1.4 Z M176,919.8 h1.4 v1.4 h-1.4 Z M272,55.8 h1.4 v1.4 h-1.4 Z M272,151.8 h1.4 v1.4 h-1.4 Z M272,247.8 h1.4 v1.4 h-1.4 Z M272,343.8 h1.4 v1.4 h-1.4 Z M272,439.8 h1.4 v1.4 h-1.4 Z M272,535.8 h1.4 v1.4 h-1.4 Z M272,631.8 h1.4 v1.4 h-1.4 Z M272,727.8 h1.4 v1.4 h-1.4 Z M272,823.8 h1.4 v1.4 h-1.4 Z M272,919.8 h1.4 v1.4 h-1.4 Z M368,55.8 h1.4 v1.4 h-1.4 Z M368,151.8 h1.4 v1.4 h-1.4 Z M368,247.8 h1.4 v1.4 h-1.4 Z M368,343.8 h1.4 v1.4 h-1.4 Z M368,439.8 h1.4 v1.4 h-1.4 Z M368,535.8 h1.4 v1.4 h-1.4 Z M368,631.8 h1.4 v1.4 h-1.4 Z M368,727.8 h1.4 v1.4 h-1.4 Z M368,823.8 h1.4 v1.4 h-1.4 Z M368,919.8 h1.4 v1.4 h-1.4 Z M464,55.8 h1.4 v1.4 h-1.4 Z M464,151.8 h1.4 v1.4 h-1.4 Z M464,247.8 h1.4 v1.4 h-1.4 Z M464,343.8 h1.4 v1.4 h-1.4 Z M464,439.8 h1.4 v1.4 h-1.4 Z M464,535.8 h1.4 v1.4 h-1.4 Z M464,631.8 h1.4 v1.4 h-1.4 Z M464,727.8 h1.4 v1.4 h-1.4 Z M464,823.8 h1.4 v1.4 h-1.4 Z M464,919.8 h1.4 v1.4 h-1.4 Z M560,55.8 h1.4 v1.4 h-1.4 Z M560,151.8 h1.4 v1.4 h-1.4 Z M560,247.8 h1.4 v1.4 h-1.4 Z M560,343.8 h1.4 v1.4 h-1.4 Z M560,439.8 h1.4 v1.4 h-1.4 Z M560,535.8 h1.4 v1.4 h-1.4 Z M560,631.8 h1.4 v1.4 h-1.4 Z M560,727.8 h1.4 v1.4 h-1.4 Z M560,823.8 h1.4 v1.4 h-1.4 Z M560,919.8 h1.4 v1.4 h-1.4 Z M656,55.8 h1.4 v1.4 h-1.4 Z M656,151.8 h1.4 v1.4 h-1.4 Z M656,247.8 h1.4 v1.4 h-1.4 Z M656,343.8 h1.4 v1.4 h-1.4 Z M656,439.8 h1.4 v1.4 h-1.4 Z M656,535.8 h1.4 v1.4 h-1.4 Z M656,631.8 h1.4 v1.4 h-1.4 Z M656,727.8 h1.4 v1.4 h-1.4 Z M656,823.8 h1.4 v1.4 h-1.4 Z M656,919.8 h1.4 v1.4 h-1.4 Z M752,55.8 h1.4 v1.4 h-1.4 Z M752,151.8 h1.4 v1.4 h-1.4 Z M752,247.8 h1.4 v1.4 h-1.4 Z M752,343.8 h1.4 v1.4 h-1.4 Z M752,439.8 h1.4 v1.4 h-1.4 Z M752,535.8 h1.4 v1.4 h-1.4 Z M752,631.8 h1.4 v1.4 h-1.4 Z M752,727.8 h1.4 v1.4 h-1.4 Z M752,823.8 h1.4 v1.4 h-1.4 Z M752,919.8 h1.4 v1.4 h-1.4 Z" fill="rgb(120,175,125)" fill-opacity="0.8"/><rect x="920.5" y="38.2" width="10.7" height="18.8" rx="0" fill="rgb(252,140,205)"/><rect x="931.2" y="38.2" width="9.8" height="18.8" rx="0" fill="rgb(255,90,220)"/><rect x="940.8" y="-10" width="2.6" height="965" rx="0" fill="rgb(214,214,208)"/><rect x="943.4" y="-10" width="6.6" height="965" rx="0" fill="rgb(140,195,140)"/></svg></body></html>
